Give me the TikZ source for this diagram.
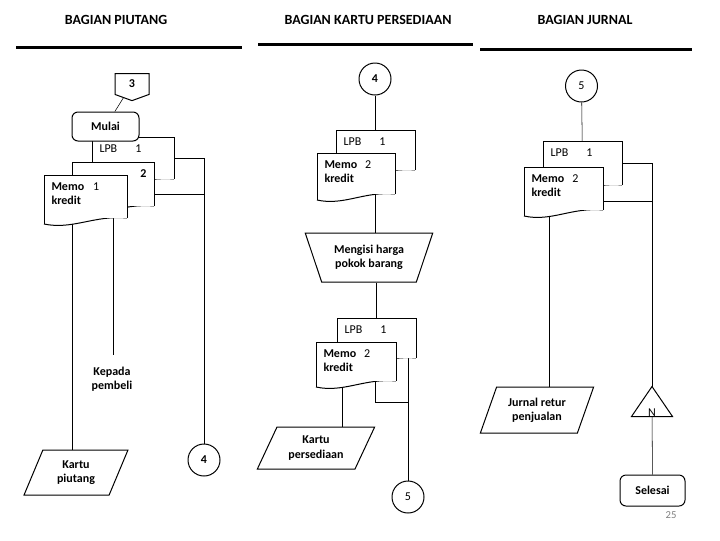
\documentclass[tikz,border=0pt]{standalone}
\usepackage{fontspec}
\setmainfont{Carlito}
\usetikzlibrary{positioning,calc,shapes.geometric,shapes.symbols,backgrounds}

\newlength{\px}
\setlength{\px}{0.75pt}

\tikzset{
  every node/.style={font=\fontsize{9}{10.8}\selectfont},
  tebal/.style={font=\fontsize{9}{10.8}\selectfont\bfseries},
  judul/.style={font=\fontsize{10.5}{12}\selectfont\bfseries},
  batas/.style={line width=2.25pt},
  terminal/.style 2 args={draw, fill=white, rounded corners=6\px, minimum width=#1\px,
    minimum height=#2\px, inner sep=0pt, tebal},
  konektor/.style={circle, draw, fill=white, minimum size=32\px, inner sep=0pt},
  halaman/.style={signal, signal to=south, signal pointer angle=140, draw, fill=white,
    minimum width=34\px, minimum height=22\px, inner sep=0pt, tebal},
  masukan/.style n args={4}{trapezium, trapezium left angle=#3, trapezium right angle=#4,
    trapezium stretches=true, draw, fill=white, minimum width=#1\px, minimum height=#2\px,
    inner sep=0pt, align=center, tebal},
  manual/.style 2 args={trapezium, shape border rotate=180, trapezium left angle=64,
    trapezium right angle=64, trapezium stretches=true, draw, fill=white,
    minimum width=#1\px, minimum height=#2\px, inner sep=0pt, align=center, tebal},
  dok/.style 2 args={draw=none, fill=white, anchor=north west, inner xsep=7\px, inner ysep=6\px,
    text width={(#1-14)*0.75pt}, text height=9\px, text depth={(#2-21)*0.75pt}, align=left,
    append after command={\pgfextra{\let\dnode\tikzlastnode
      \fill[white] (\dnode.south west) -- ++(0,6)
        .. controls +({0.35*#1},6) and +({-0.4*#1},-3) .. (\dnode.south east) -- cycle;
      \draw (\dnode.south west) ++(0,6) -- (\dnode.north west) -- (\dnode.north east)
        -- (\dnode.south east);
      \draw (\dnode.south west) ++(0,6)
        .. controls +({0.35*#1},6) and +({-0.4*#1},-3) .. (\dnode.south east);
    }}},
  arsip/.style={minimum width=40\px, minimum height=29\px, inner sep=0pt,
    append after command={\pgfextra{\let\anode\tikzlastnode
      \filldraw[fill=white] (\anode.north) -- (\anode.south east) -- (\anode.south west) -- cycle;
    }}}
}

\begin{document}
\begin{tikzpicture}[x=\px, y=-\px, line width=0.75pt]
  \useasboundingbox (0,0) rectangle (720,540);

  % judul tiap bagian
  \node[judul] (jdlPiutang) at (116,20) {BAGIAN PIUTANG};
  \node[judul] (jdlKartu) at (368,20) {BAGIAN KARTU PERSEDIAAN};
  \node[judul] (jdlJurnal) at (585,20) {BAGIAN JURNAL};
  \draw[batas] (16,47) -- (242,47);
  \draw[batas] (258,44) -- (473,44);
  \draw[batas] (480,49) -- (692,49);

  % bagian piutang
  \node[halaman] (offA3) at (132,84) {3};
  \node[dok={81}{41}] (lpbA) at (92,137) {LPB\hspace{18\px}1};
  \node[terminal={67}{29}] (mulai) at (105.5,126.5) {Mulai};
  \node[dok={81}{43}, align=right] (docA2) at (72,162) {\textbf{2}};
  \node[dok={82}{42}] (memoA) at (44,175) {\textbf{Memo}\hspace{9\px}1\\\textbf{kredit}};
  \node[tebal, align=center] (kepada) at (112,379) {Kepada\\pembeli};
  \coordinate (ujungA) at (113,355);
  \node[masukan={104}{45}{66}{114}] (kartuP) at (76,472.5) {Kartu\\piutang};
  \node[konektor, tebal] (konA4) at (204,460) {4};

  % bagian kartu persediaan
  \node[konektor, tebal] (konB4) at (375,79) {4};
  \node[dok={78}{39}] (lpbB) at (336,130) {LPB\hspace{18\px}1};
  \node[dok={77}{40}] (memoB) at (317,153) {\textbf{Memo}\hspace{8\px}2\\\textbf{kredit}};
  \node[manual={128}{49}] (isi) at (369,257.5) {Mengisi harga\\pokok barang};
  \node[dok={78}{39}] (lpbC) at (337,318) {LPB\hspace{18\px}1};
  \node[dok={79}{38}] (memoC) at (316,342) {\textbf{Memo}\hspace{8\px}2\\\textbf{kredit}};
  \node[masukan={118}{42}{60}{120}] (kartuS) at (316,448) {Kartu\\persediaan};
  \node[konektor] (konC5) at (408,497) {5};
  \coordinate (tC) at (408,402);

  % bagian jurnal
  \node[konektor] (konD5) at (581.5,86) {5};
  \node[dok={78}{43}] (lpbD) at (543,141) {LPB\hspace{18\px}1};
  \node[dok={78}{42}] (memoD) at (524,167) {\textbf{Memo}\hspace{8\px}2\\\textbf{kredit}};
  \node[masukan={114}{46}{65}{115}] (jurnal) at (537,410) {Jurnal retur\\penjualan};
  \node[arsip, label={[inner sep=0pt, anchor=south]south:N}] (arsipD) at (652,401.5) {};
  \node[terminal={65}{31}] (selesai) at (652.5,490.5) {Selesai};
  \node[text=gray, font=\fontsize{8}{9}\selectfont] (hal) at (671,515) {25};

  % garis alir
  \begin{scope}[on background layer]
    \draw (offA3) -- (mulai);
    \draw (lpbA.east) -| (konA4);
    \draw ([yshift=-10.5\px]docA2.east) -- ([yshift=-10.5\px]docA2.east -| konA4);
    \draw ([xshift=-4\px]kartuP.north) -- ([xshift=-4\px]kartuP.north |- memoA.center);
    \draw (memoA.center -| ujungA) -- (ujungA);
    \draw (konB4) -- (konB4 |- isi.north);
    \draw (isi.south -| lpbC) -- (lpbC);
    \draw ([xshift=26\px]kartuS.north) -- ([xshift=26\px]kartuS.north |- memoC.center);
    \draw (konB4 |- memoC.center) |- (tC);
    \draw (konC5) -- (konC5 |- lpbC.center);
    \draw (konD5) -- (lpbD);
    \draw (lpbD.east) -| (arsipD);
    \draw ([yshift=-13\px]memoD.east) -- ([yshift=-13\px]memoD.east -| arsipD);
    \draw ([xshift=12\px]jurnal.north) -- ([xshift=12\px]jurnal.north |- memoD.center);
    \draw (arsipD) -- (selesai);
  \end{scope}
\end{tikzpicture}
\end{document}
